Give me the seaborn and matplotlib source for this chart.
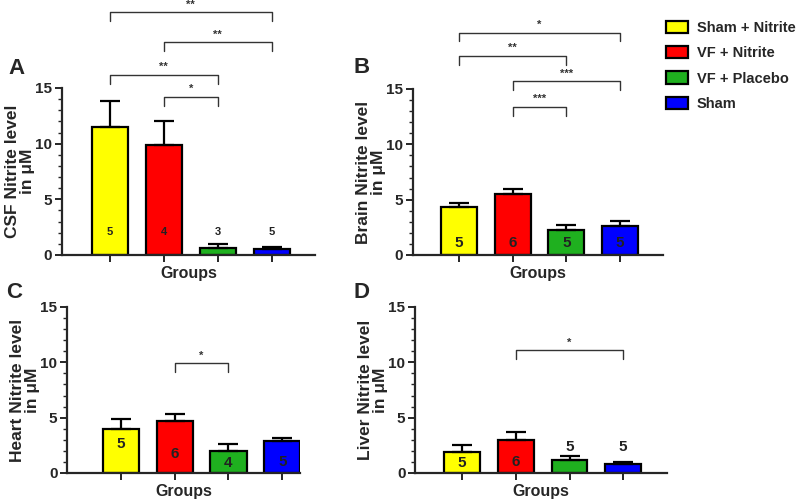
import matplotlib
matplotlib.use("Agg")
import matplotlib.pyplot as plt
from matplotlib.patches import Patch
from matplotlib.ticker import MultipleLocator
import seaborn as sns
import pandas as pd

# Groups and colours
groups = ["Sham + Nitrite", "VF + Nitrite", "VF + Placebo", "Sham"]
colors = ["#ffff00", "#ff0000", "#1fb01f", "#0000ff"]

# Mean nitrite levels (uM) and SEM
csf_mean = [11.5, 9.9, 0.65, 0.5]
csf_sem = [2.3, 2.1, 0.35, 0.25]
brain_mean = [4.3, 5.5, 2.3, 2.6]
brain_sem = [0.4, 0.5, 0.4, 0.45]
heart_mean = [4.0, 4.7, 2.0, 2.9]
heart_sem = [0.9, 0.6, 0.6, 0.3]
liver_mean = [1.9, 3.0, 1.15, 0.8]
liver_sem = [0.6, 0.7, 0.4, 0.15]

# sample sizes written on the bars
csf_n = ["5", "4", "3", "5"]
brain_n = ["5", "6", "5", "5"]
heart_n = ["5", "6", "4", "5"]
liver_n = ["5", "6", "5", "5"]

# significance brackets: (group i, group j, height, stars)
csf_sig = [(0, 3, 21.8, "**"), (1, 3, 19.1, "**"), (0, 2, 16.2, "**"), (1, 2, 14.2, "*")]
brain_sig = [(0, 3, 20.1, "*"), (0, 2, 18.0, "**"), (1, 3, 15.7, "***"), (1, 2, 13.4, "***")]
heart_sig = [(1, 2, 9.9, "*")]
liver_sig = [(1, 3, 11.1, "*")]

sns.set_style("ticks")
plt.rcParams["font.family"] = ["Liberation Sans", "DejaVu Sans"]
plt.rcParams["font.weight"] = "bold"

fig = plt.figure(figsize=(8, 5), dpi=100)


def panel(rect, xlim, mean, sem, n, n_y, n_size, sig, ylabel, letter, letter_pos):
    ax = fig.add_axes(rect)
    df = pd.DataFrame({"group": groups, "value": mean})
    sns.barplot(data=df, x="group", y="value", hue="group", palette=colors,
                order=groups, hue_order=groups, width=0.67, errorbar=None,
                saturation=1, edgecolor="black", linewidth=1.6, legend=False,
                ax=ax)
    ax.errorbar(range(4), mean, yerr=[[0] * 4, sem], fmt="none", ecolor="black",
                elinewidth=1.6, capsize=7, capthick=1.6, zorder=1)
    for i, label in enumerate(n):
        ax.text(i, n_y[i], label, ha="center", va="center", fontsize=n_size,
                fontweight="bold", color="#222222")
    for i, j, y, stars in sig:
        ax.plot([i, i, j, j], [y - 0.8, y, y, y - 0.8], color="#333333", lw=1.0,
                clip_on=False)
        ax.text((i + j) / 2, y + 0.25, stars, ha="center", va="bottom",
                fontsize=8, color="#333333")
    ax.set_xlim(*xlim)
    ax.set_ylim(0, 15)
    ax.yaxis.set_major_locator(MultipleLocator(5))
    ax.yaxis.set_minor_locator(MultipleLocator(1))
    ax.tick_params(axis="y", which="major", length=5, width=1.4, labelsize=11,
                   pad=2)
    ax.tick_params(axis="y", which="minor", length=3, width=1.0)
    ax.tick_params(axis="x", length=5, width=1.4, labelbottom=False)
    for lab in ax.get_yticklabels():
        lab.set_fontweight("bold")
    for s in ["left", "bottom"]:
        ax.spines[s].set_linewidth(1.6)
    sns.despine(ax=ax)
    ax.set_xlabel("Groups", fontsize=11.5, fontweight="bold", labelpad=3)
    ax.set_ylabel(ylabel, fontsize=12.5, fontweight="bold", labelpad=0,
                  linespacing=1.0)
    fig.text(letter_pos[0], letter_pos[1], letter, fontsize=16,
             fontweight="bold", ha="left", va="center")
    return ax


panel([0.0775, 0.49, 0.316, 0.334], (-0.89, 3.8), csf_mean, csf_sem, csf_n,
      [2.1, 2.1, 2.1, 2.1], 8, csf_sig, "CSF Nitrite level\nin \u03bcM",
      "A", (0.01, 0.862))
panel([0.516, 0.49, 0.313, 0.332], (-0.86, 3.8), brain_mean, brain_sem, brain_n,
      [1.1, 1.1, 1.1, 1.1], 11, brain_sig, "Brain Nitrite level\nin \u03bcM",
      "B", (0.442, 0.865))
panel([0.084, 0.054, 0.291, 0.332], (-1.0, 3.33), heart_mean, heart_sem, heart_n,
      [2.6, 1.7, 0.9, 1.0], 11, heart_sig, "Heart Nitrite level\nin \u03bcM",
      "C", (0.008, 0.415))
panel([0.519, 0.054, 0.315, 0.332], (-0.875, 3.82), liver_mean, liver_sem, liver_n,
      [0.9, 0.95, 2.35, 2.35], 11, liver_sig, "Liver Nitrite level\nin \u03bcM",
      "D", (0.442, 0.415))

handles = [Patch(facecolor=c, edgecolor="black", linewidth=1.6) for c in colors]
fig.legend(handles, groups, loc="upper left", bbox_to_anchor=(0.816, 0.984),
           frameon=False, prop={"size": 10.5, "weight": "bold"},
           handlelength=1.5, handleheight=0.9, labelspacing=0.76,
           handletextpad=0.6)

fig.savefig("out.png", dpi=100)
